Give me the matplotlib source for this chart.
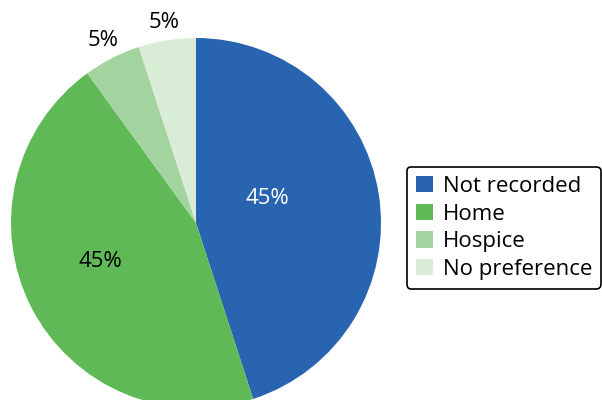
import matplotlib.pyplot as plt
import numpy as np

plt.rcParams['font.family'] = ['Open Sans', 'DejaVu Sans']

categories = ['Not recorded', 'Home', 'Hospice', 'No preference']
shares = [45, 45, 5, 5]
colors = ['#2864b0', '#5eb956', '#a3d4a0', '#d9ecd6']
label_text = ['45%', '45%', '5%', '5%']
label_colors = ['white', 'black', 'black', 'black']
label_dist = [0.41, 0.56, 1.11, 1.10]
label_nudge = [10, -5, 0, 0]

fig = plt.figure(figsize=(6.02, 4.0), dpi=100)
ax = fig.add_axes([0, 0, 1, 1])

cx, cy, r = 196, 177, 185
wedges, _ = ax.pie(shares, colors=colors, startangle=90, counterclock=False,
                   center=(cx, cy), radius=r, wedgeprops=dict(linewidth=0))

for w, t, c, d, n in zip(wedges, label_text, label_colors, label_dist, label_nudge):
    ang = np.deg2rad((w.theta1 + w.theta2) / 2 + n)
    ax.text(cx + d * r * np.cos(ang), cy + d * r * np.sin(ang), t,
            ha='center', va='center', fontsize=16, color=c)

ax.set_xlim(0, 602)
ax.set_ylim(0, 400)
ax.set_aspect('equal')
ax.axis('off')

leg = fig.legend(wedges, categories, loc='upper left', bbox_to_anchor=(407 / 602, 1 - 167 / 400),
                 fontsize=16, frameon=True, fancybox=True, edgecolor='black',
                 handlelength=0.75, handleheight=0.75, handletextpad=0.45,
                 labelspacing=0.3, borderpad=0.4, borderaxespad=0)
leg.get_frame().set_linewidth(1.2)
leg.get_frame().set_alpha(1)

fig.savefig('out.png', dpi=100)
